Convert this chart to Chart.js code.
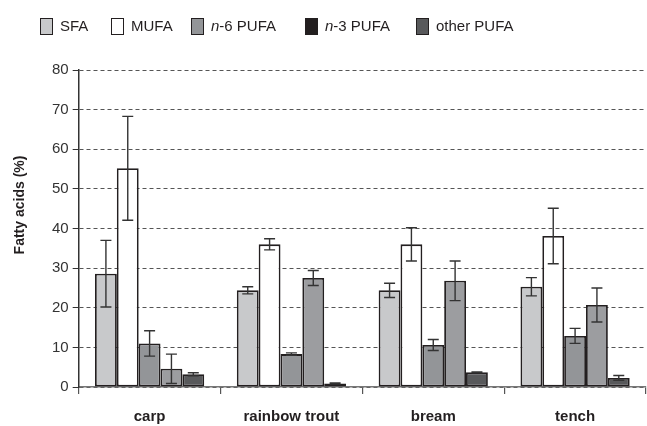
<!DOCTYPE html>
<html>
<head>
<meta charset="utf-8">
<script src="https://cdn.jsdelivr.net/npm/chart.js@4.4.0/dist/chart.umd.min.js"></script>
<style>
  html, body { margin: 0; padding: 0; background: #fff; }
  #wrap { width: 647px; height: 426px; position: relative; }
</style>
</head>
<body>
<div id="wrap"><canvas id="fattyChart"></canvas></div>
<script>
// --- data ---
const fish = ['carp', 'rainbow trout', 'bream', 'tench'];
const seriesNames = ['SFA', 'MUFA', 'n-6 PUFA', 'n-3 PUFA', 'other PUFA'];

const sfa      = [28.6, 24.4, 24.4, 25.3];
const mufa     = [55.2, 36.0, 36.0, 38.1];
const n6pufa   = [11.0, 8.3, 10.6, 12.9];
const n3pufa   = [4.6, 27.5, 26.8, 20.7];
const otherPufa = [3.2, 0.9, 3.7, 2.3];

// error bars (+/-)
const sfaErr   = [8.4, 0.9, 1.8, 2.3];
const mufaErr  = [13.1, 1.4, 4.2, 7.0];
const n6Err    = [3.2, 0.3, 1.4, 1.9];
const n3Err    = [3.7, 1.9, 5.0, 4.3];
const otherErr = [0.4, 0.15, 0.1, 0.6];

const yTicks = [0, 10, 20, 30, 40, 50, 60, 70, 80];

// --- styles ---
const FONT = "'Liberation Sans', Arial, sans-serif";
const INK = '#231f20';
const barColors    = ['#c8c9cb', '#ffffff', '#939598', '#9c9da0', '#58595b'];
const legendColors = ['#c8c9cb', '#ffffff', '#939598', '#231f20', '#58595b'];
const legendX = [40, 111, 191, 305, 416];

const values = [sfa, mufa, n6pufa, n3pufa, otherPufa];
const errors = [sfaErr, mufaErr, n6Err, n3Err, otherErr];

const datasets = seriesNames.map((name, i) => ({
    label: name,
    data: values[i],
    err: errors[i],
    backgroundColor: barColors[i],
    borderColor: INK,
    borderWidth: 1.8,
    borderSkipped: false,
    barPercentage: 1,
    categoryPercentage: 0.77
}));

const extras = {
    id: 'extras',
    afterDatasetsDraw(chart) {
        const { ctx, scales: { y } } = chart;
        ctx.save();
        ctx.strokeStyle = '#333';
        ctx.lineWidth = 1.4;
        chart.data.datasets.forEach((ds, di) => {
            chart.getDatasetMeta(di).data.forEach((bar, i) => {
                const v = ds.data[i], e = ds.err[i];
                const yt = y.getPixelForValue(v + e);
                const yb = y.getPixelForValue(v - e);
                const cap = 5.5;
                ctx.beginPath();
                ctx.moveTo(bar.x, yt); ctx.lineTo(bar.x, yb);
                ctx.moveTo(bar.x - cap, yt); ctx.lineTo(bar.x + cap, yt);
                ctx.moveTo(bar.x - cap, yb); ctx.lineTo(bar.x + cap, yb);
                ctx.stroke();
            });
        });
        ctx.restore();
    },
    afterDraw(chart) {
        const { ctx } = chart;
        ctx.save();
        // legend
        ctx.textBaseline = 'middle';
        ctx.textAlign = 'left';
        seriesNames.forEach((name, i) => {
            const x = legendX[i];
            ctx.fillStyle = legendColors[i];
            ctx.fillRect(x, 18, 13, 17);
            ctx.strokeStyle = INK;
            ctx.lineWidth = 1;
            ctx.strokeRect(x + 0.5, 18.5, 12, 16);
            ctx.fillStyle = INK;
            let tx = x + 20;
            let rest = name;
            if (name.startsWith('n-')) {
                ctx.font = `italic 15px ${FONT}`;
                ctx.fillText('n', tx, 27);
                tx += ctx.measureText('n').width;
                rest = name.slice(1);
            }
            ctx.font = `15px ${FONT}`;
            ctx.fillText(rest, tx, 27);
        });
        // y axis title
        ctx.translate(20, 205);
        ctx.rotate(-Math.PI / 2);
        ctx.textAlign = 'center';
        ctx.font = `bold 14px ${FONT}`;
        ctx.fillStyle = INK;
        ctx.fillText('Fatty acids (%)', 0, 0);
        ctx.restore();
    }
};

new Chart(document.getElementById('fattyChart'), {
    type: 'bar',
    data: { labels: fish, datasets },
    options: {
        responsive: true,
        maintainAspectRatio: false,
        animation: false,
        layout: { padding: { left: 48, right: 1, top: 70, bottom: 0 } },
        plugins: {
            legend: { display: false },
            tooltip: { enabled: false }
        },
        scales: {
            x: {
                afterFit: (scale) => { scale.height = 39; },
                grid: {
                    drawOnChartArea: false,
                    color: '#555',
                    tickLength: 7,
                    lineWidth: 1.2
                },
                border: { color: '#777', width: 1.5 },
                ticks: {
                    color: INK,
                    padding: 14,
                    font: { family: FONT, size: 15, weight: 'bold' }
                }
            },
            y: {
                min: 0,
                max: 80,
                afterBuildTicks: (scale) => { scale.ticks = yTicks.map(v => ({ value: v })); },
                grid: {
                    color: '#555',
                    lineWidth: 1,
                    tickLength: 6,
                    tickColor: '#333',
                    tickBorderDash: []
                },
                border: { color: '#333', width: 1.5, dash: [4, 3] },
                ticks: {
                    color: '#333',
                    padding: 4,
                    font: { family: FONT, size: 15 }
                }
            }
        }
    },
    plugins: [extras]
});
</script>
</body>
</html>
